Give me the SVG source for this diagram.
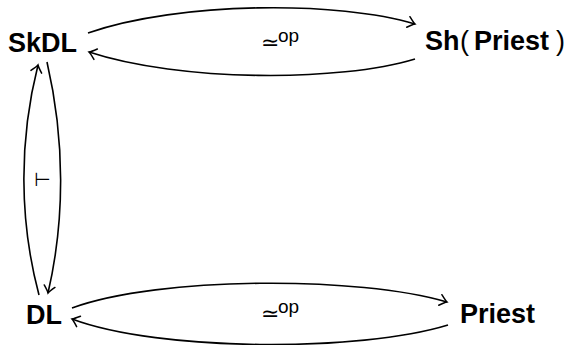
<svg xmlns="http://www.w3.org/2000/svg" width="570" height="345" viewBox="0 0 570 345">
<defs>
<style>
.n{font-family:"Liberation Sans",Arial,sans-serif;font-weight:bold;font-size:27px;fill:#000}
.r{font-weight:normal}
.sym{font-family:"DejaVu Sans",sans-serif;font-size:22px;fill:#000}
.op{font-family:"Liberation Sans",Arial,sans-serif;font-size:19px;fill:#000}
.e{fill:none;stroke:#000;stroke-width:1.6}
</style>
<marker id="ah" markerUnits="userSpaceOnUse" markerWidth="20" markerHeight="20" refX="0" refY="0" viewBox="-10 -10 20 20" orient="auto" overflow="visible">
<path d="M-7,-5.5 Q-2,-1 0,0 Q-2,1 -7,5.5" fill="none" stroke="#000" stroke-width="1.5" stroke-linecap="round"/>
</marker>
</defs>
<rect width="570" height="345" fill="#fff"/>
<g id="SkDL"><text class="n" x="8" y="52">SkDL</text></g>
<g id="ShPriest"><text class="n" y="50"><tspan x="425">Sh</tspan><tspan class="r" x="460">(</tspan><tspan x="474">Priest</tspan><tspan class="r" x="556">)</tspan></text></g>
<g id="DL"><text class="n" x="26" y="324">DL</text></g>
<g id="Priest"><text class="n" x="460" y="323">Priest</text></g>
<g id="connectors">
<path class="e" d="M88,33 C180,1 340,1 415,24" marker-end="url(#ah)"/>
<path class="e" d="M415,59 C340,82 180,82 89,52" marker-end="url(#ah)"/>
<path class="e" d="M72,308 C160,276 360,276 447,302" marker-end="url(#ah)"/>
<path class="e" d="M448,325 C360,352 160,352 72,319" marker-end="url(#ah)"/>
<path class="e" d="M39,295 C19,220 19,140 38,65" marker-end="url(#ah)"/>
<path class="e" d="M47,62 C65,140 65,220 48,293" marker-end="url(#ah)"/>
<text class="sym" x="261" y="50">≃</text><text class="op" x="278" y="42">op</text>
<text class="sym" x="261" y="321">≃</text><text class="op" x="278" y="313">op</text>
<text class="sym" x="34" y="186" style="font-size:19px">⊢</text>
</g>
</svg>
